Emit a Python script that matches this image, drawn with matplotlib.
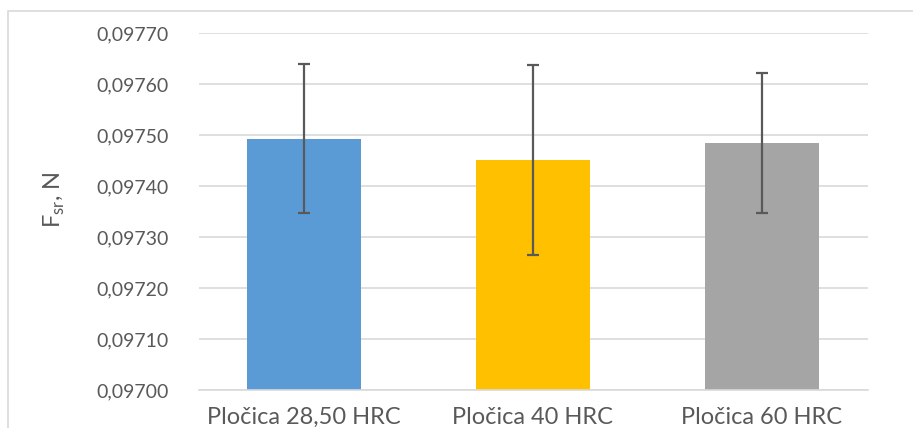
import matplotlib
matplotlib.use("Agg")
import matplotlib.pyplot as plt
from matplotlib.patches import Rectangle
from matplotlib.ticker import FuncFormatter

categories = ["Pločica 28,50 HRC", "Pločica 40 HRC", "Pločica 60 HRC"]
values = [0.097493, 0.097451, 0.097485]
errors = [0.000146, 0.000186, 0.000137]
colors = ["#5B9BD5", "#FFC000", "#A5A5A5"]
yticks = [0.0970, 0.0971, 0.0972, 0.0973, 0.0974, 0.0975, 0.0976, 0.0977]

plt.rcParams['font.family'] = ['Lato', 'DejaVu Sans']
txt = "#595959"
grid = "#D9D9D9"

fig = plt.figure(figsize=(9.13, 4.28), dpi=100)
W, H = 913, 428
ax = fig.add_axes([199 / W, 1 - 390.3 / H, (868 - 199) / W, (390.3 - 33) / H])

# outer chart border (cropped at right/bottom)
fig.patches.append(Rectangle((8 / W, -0.1), 1.2, 1 - 11 / H + 0.1,
                             transform=fig.transFigure, fill=False,
                             edgecolor=grid, linewidth=1.2))

x = list(range(len(categories)))
ax.bar(x, values, width=0.5, color=colors, zorder=2)
ax.errorbar(x, values, yerr=errors, fmt="none", ecolor="#595959",
            elinewidth=1.6, capsize=4, capthick=1.6, zorder=3)

ax.set_ylim(0.0970, 0.0977)
ax.set_xlim(-0.4585, 2.463)
ax.set_yticks(yticks)
ax.yaxis.set_major_formatter(FuncFormatter(lambda v, p: f"{v:.5f}".replace(".", ",")))
ax.set_xticks(x)
ax.set_xticklabels(categories, fontsize=17)

ax.grid(axis="y", color=grid, linewidth=1.2, zorder=0)
ax.set_axisbelow(True)
for s in ["top", "right", "left"]:
    ax.spines[s].set_visible(False)
ax.spines["bottom"].set_color(grid)
ax.spines["bottom"].set_linewidth(1.2)
ax.tick_params(axis="both", length=0, colors=txt)
ax.tick_params(axis="y", pad=22, labelsize=14)
ax.tick_params(axis="x", pad=12)

ax.set_ylabel("F$_{\\mathregular{sr}}$, N", color=txt, fontsize=17)
ax.yaxis.set_label_coords(-0.197, 0.533)

fig.savefig("out.png", dpi=100)
